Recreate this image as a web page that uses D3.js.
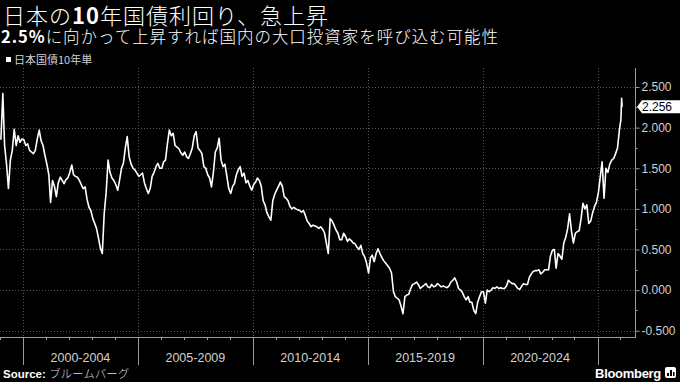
<!DOCTYPE html>
<html>
<head>
<meta charset="utf-8">
<script src="https://cdn.jsdelivr.net/npm/d3@7"></script>
<style>
  body { margin: 0; background: #000; }
  svg { display: block; }
</style>
</head>
<body>
<div id="chart"></div>
<script>
// Japan 10y JGB yield, monthly readings, Jan 1999 .. Dec 2025
var firstMonth = "1999-01";
var monthlyYields = [
  1.85, 2.42, 1.78, 1.55, 1.25, 1.60, 1.72, 1.98, 1.78, 1.90, 1.82, 1.86, // 1999
  1.85, 1.78, 1.80, 1.72, 1.70, 1.68, 1.72, 1.86, 1.97, 1.84, 1.78, 1.66, // 2000
  1.55, 1.42, 1.08, 1.35, 1.28, 1.15, 1.32, 1.39, 1.35, 1.31, 1.36, 1.38, // 2001
  1.45, 1.54, 1.42, 1.40, 1.39, 1.35, 1.30, 1.25, 1.27, 1.12, 1.02, 0.98, // 2002
  0.88, 0.82, 0.76, 0.64, 0.52, 0.45, 0.94, 1.20, 1.60, 1.45, 1.38, 1.35, // 2003
  1.30, 1.23, 1.35, 1.50, 1.56, 1.75, 1.89, 1.64, 1.55, 1.50, 1.48, 1.44, // 2004
  1.40, 1.42, 1.44, 1.32, 1.25, 1.19, 1.25, 1.40, 1.45, 1.52, 1.56, 1.50, // 2005
  1.50, 1.58, 1.60, 1.80, 1.97, 1.90, 1.93, 1.78, 1.76, 1.74, 1.69, 1.66, // 2006
  1.70, 1.64, 1.62, 1.68, 1.75, 1.90, 1.95, 1.75, 1.72, 1.68, 1.52, 1.50, // 2007
  1.42, 1.38, 1.27, 1.45, 1.70, 1.75, 1.87, 1.60, 1.52, 1.55, 1.40, 1.25, // 2008
  1.19, 1.28, 1.31, 1.42, 1.48, 1.52, 1.40, 1.44, 1.32, 1.35, 1.28, 1.23, // 2009
  1.30, 1.33, 1.38, 1.35, 1.28, 1.10, 1.05, 0.95, 0.90, 0.86, 1.10, 1.18, // 2010
  1.23, 1.28, 1.33, 1.28, 1.15, 1.13, 1.10, 1.03, 1.00, 1.02, 1.00, 0.99, // 2011
  0.98, 0.96, 0.98, 0.92, 0.85, 0.82, 0.78, 0.80, 0.79, 0.78, 0.76, 0.78, // 2012
  0.75, 0.70, 0.58, 0.45, 0.88, 0.85, 0.80, 0.74, 0.70, 0.62, 0.62, 0.70, // 2013
  0.66, 0.60, 0.63, 0.61, 0.58, 0.57, 0.53, 0.50, 0.55, 0.45, 0.41, 0.33, // 2014
  0.21, 0.40, 0.43, 0.35, 0.45, 0.51, 0.45, 0.40, 0.36, 0.33, 0.30, 0.27, // 2015
  0.21, -0.02, -0.08, -0.10, -0.12, -0.20, -0.29, -0.08, -0.06, -0.05, 0.02, 0.07, // 2016
  0.08, 0.10, 0.07, 0.02, 0.04, 0.06, 0.08, 0.04, 0.03, 0.07, 0.04, 0.05, // 2017
  0.08, 0.06, 0.04, 0.05, 0.04, 0.03, 0.05, 0.10, 0.12, 0.15, 0.10, 0.02, // 2018
  0.00, -0.03, -0.08, -0.12, -0.08, -0.15, -0.15, -0.25, -0.29, -0.15, -0.08, -0.02, // 2019
  -0.02, -0.16, 0.00, -0.02, 0.00, 0.03, 0.02, 0.04, 0.02, 0.03, 0.02, 0.02, // 2020
  0.05, 0.12, 0.10, 0.08, 0.08, 0.05, 0.02, 0.01, 0.05, 0.08, 0.07, 0.07, // 2021
  0.16, 0.20, 0.23, 0.24, 0.24, 0.25, 0.20, 0.22, 0.25, 0.25, 0.25, 0.42, // 2022
  0.49, 0.50, 0.27, 0.45, 0.42, 0.38, 0.58, 0.65, 0.76, 0.94, 0.72, 0.58, // 2023
  0.70, 0.72, 0.73, 0.88, 1.07, 1.00, 1.05, 0.82, 0.85, 0.95, 1.03, 1.08, // 2024
  1.20, 1.40, 1.58, 1.13, 1.50, 1.45, 1.55, 1.60, 1.62, 1.68, 1.75, 1.97  // 2025
];
// the last few daily points in Jan 2026
var tailDates = ["2026-01-08", "2026-01-20", "2026-01-27"];
var tailYields = [2.10, 2.36, 2.256];
var lastValue = 2.256;

var periodStarts = [2000, 2005, 2010, 2015, 2020, 2025];
var periodLabels = ["2000-2004", "2005-2009", "2010-2014", "2015-2019", "2020-2024"];
var yTicks = [-0.5, 0, 0.5, 1, 1.5, 2, 2.5];
var yMinorTicks = [-0.25, 0.25, 0.75, 1.25, 1.75, 2.25];

var svgWidth = 680;
var svgHeight = 382;
var plot = {left: 0, right: 635, top: 68, bottom: 337};

var svg = d3.select('#chart').append('svg')
  .attr('width', svgWidth)
  .attr('height', svgHeight)
  .style('background', '#000');

var font = "'Liberation Sans', Arial, sans-serif";
var jpFont = "'Noto Sans CJK JP', 'Noto Sans', sans-serif";

// build the series
var parseMonth = d3.timeParse("%Y-%m");
var parseDay = d3.timeParse("%Y-%m-%d");
var start = parseMonth(firstMonth);
var series = monthlyYields.map(function(v, i) {
  var d = d3.timeMonth.offset(start, i);
  d.setDate(15);
  return {date: d, value: v};
});
tailDates.forEach(function(s, i) {
  series.push({date: parseDay(s), value: tailYields[i]});
});

// scales
var x = d3.scaleTime()
  .domain([new Date(1999, 0, 1), new Date(2026, 7, 20)])
  .range([plot.left, plot.right]);
var y = d3.scaleLinear()
  .domain([-0.577, 2.734])
  .range([plot.bottom, plot.top]);

// grid
var grid = svg.append('g');
grid.selectAll('line.h').data(yTicks).enter().append('line')
  .attr('x1', plot.left).attr('x2', plot.right)
  .attr('y1', function(d) { return Math.round(y(d)) + 0.5; })
  .attr('y2', function(d) { return Math.round(y(d)) + 0.5; })
  .attr('stroke', '#555').attr('stroke-dasharray', '1,2');
grid.selectAll('line.v').data(periodStarts).enter().append('line')
  .attr('x1', function(d) { return Math.round(x(new Date(d, 0, 1))) + 0.5; })
  .attr('x2', function(d) { return Math.round(x(new Date(d, 0, 1))) + 0.5; })
  .attr('y1', plot.top).attr('y2', plot.bottom)
  .attr('stroke', '#555').attr('stroke-dasharray', '1,2');

// x axis
var xg = svg.append('g');
xg.append('line')
  .attr('x1', plot.left).attr('x2', plot.right)
  .attr('y1', plot.bottom + 0.5).attr('y2', plot.bottom + 0.5)
  .attr('stroke', '#9a9a9a');
var years = d3.range(1999, 2027);
xg.selectAll('line.minor').data(years).enter().append('line')
  .attr('x1', function(d) { return Math.round(x(new Date(d, 0, 1))) + 0.5; })
  .attr('x2', function(d) { return Math.round(x(new Date(d, 0, 1))) + 0.5; })
  .attr('y1', plot.bottom).attr('y2', plot.bottom + 3)
  .attr('stroke', '#9a9a9a');
xg.selectAll('line.sep').data(periodStarts).enter().append('line')
  .attr('x1', function(d) { return Math.round(x(new Date(d, 0, 1))) + 0.5; })
  .attr('x2', function(d) { return Math.round(x(new Date(d, 0, 1))) + 0.5; })
  .attr('y1', plot.bottom).attr('y2', 365)
  .attr('stroke', '#9a9a9a');
xg.selectAll('text').data(periodLabels).enter().append('text')
  .attr('x', function(d, i) {
    return (x(new Date(periodStarts[i], 0, 1)) + x(new Date(periodStarts[i + 1], 0, 1))) / 2;
  })
  .attr('y', 362)
  .attr('text-anchor', 'middle')
  .attr('fill', '#d0d0d0')
  .style('font-family', font).style('font-size', '12.5px')
  .text(function(d) { return d; });

// y axis on the right
var yAxis = d3.axisRight(y)
  .tickValues(yTicks)
  .tickSize(4)
  .tickPadding(2)
  .tickFormat(function(d) { return d.toFixed(3); });
var yg = svg.append('g')
  .attr('transform', 'translate(' + (plot.right + 0.5) + ',0)')
  .call(yAxis);
yg.select('.domain').remove();
yg.selectAll('line').attr('stroke', '#9a9a9a');
yg.selectAll('text')
  .attr('fill', '#d0d0d0')
  .style('font-family', font).style('font-size', '12px');
yg.selectAll('line.mn').data(yMinorTicks).enter().append('line')
  .attr('x1', 0).attr('x2', 2)
  .attr('y1', function(d) { return Math.round(y(d)) + 0.5; })
  .attr('y2', function(d) { return Math.round(y(d)) + 0.5; })
  .attr('stroke', '#9a9a9a');
svg.append('line')
  .attr('x1', plot.right + 0.5).attr('x2', plot.right + 0.5)
  .attr('y1', plot.top).attr('y2', plot.bottom + 1)
  .attr('stroke', '#9a9a9a');

// the line
var line = d3.line()
  .x(function(d) { return x(d.date); })
  .y(function(d) { return y(d.value); });
svg.append('path')
  .datum(series)
  .attr('d', line)
  .attr('fill', 'none')
  .attr('stroke', '#fff')
  .attr('stroke-width', 1.6)
  .attr('stroke-linejoin', 'round');

// last value tag
var ly = y(lastValue);
svg.append('path')
  .attr('d', 'M' + (plot.right + 2) + ',' + ly +
    'L' + (plot.right + 7) + ',' + (ly - 6.5) +
    'L680,' + (ly - 6.5) + 'L680,' + (ly + 6.5) +
    'L' + (plot.right + 7) + ',' + (ly + 6.5) + 'Z')
  .attr('fill', '#fff');
svg.append('text')
  .attr('x', plot.right + 7).attr('y', ly + 4.5)
  .attr('fill', '#000')
  .style('font-family', font).style('font-size', '12px')
  .text(lastValue.toFixed(3));

// titles (widths stretched by spacing to match the original layout)
var title = svg.append('text')
  .attr('x', 3).attr('y', 24)
  .attr('fill', '#fff')
  .attr('textLength', 325).attr('lengthAdjust', 'spacing')
  .style('font-family', jpFont).style('font-size', '22px').style('font-weight', 300);
title.append('tspan').text('日本の');
title.append('tspan').style('font-weight', 700).text('10');
title.append('tspan').text('年国債利回り、急上昇');

var sub = svg.append('text')
  .attr('x', 1).attr('y', 43)
  .attr('fill', '#fff')
  .attr('textLength', 497).attr('lengthAdjust', 'spacing')
  .style('font-family', jpFont).style('font-size', '16.5px').style('font-weight', 300);
sub.append('tspan').style('font-weight', 700).text('2.5%');
sub.append('tspan').text('に向かって上昇すれば国内の大口投資家を呼び込む可能性');

// legend
svg.append('rect')
  .attr('x', 6).attr('y', 57).attr('width', 5).attr('height', 5)
  .attr('fill', '#fff');
svg.append('text')
  .attr('x', 14).attr('y', 63.5)
  .attr('fill', '#d0d0d0')
  .style('font-family', jpFont).style('font-size', '11px')
  .text('日本国債10年単');

// footer
var src = svg.append('text')
  .attr('x', 3).attr('y', 378)
  .attr('fill', '#fff')
  .style('font-family', font).style('font-size', '11.5px');
src.append('tspan').style('font-weight', 700).text('Source: ');
src.append('tspan').style('font-family', jpFont).style('font-weight', 300)
  .attr('fill', '#ddd').text('ブルームバーグ');

svg.append('text')
  .attr('x', 661).attr('y', 378)
  .attr('text-anchor', 'end')
  .attr('fill', '#fff')
  .style('font-family', font).style('font-size', '13px').style('font-weight', 700)
  .style('letter-spacing', '-0.3px')
  .text('Bloomberg');
var icon = svg.append('g').attr('transform', 'translate(665,367)');
icon.append('rect').attr('width', 11).attr('height', 11).attr('rx', 2).attr('fill', '#fff');
[[2, 6, 2, 3], [5, 3, 2, 6], [8, 5, 1.5, 4]].forEach(function(b) {
  icon.append('rect').attr('x', b[0]).attr('y', b[1]).attr('width', b[2]).attr('height', b[3]).attr('fill', '#000');
});
</script>
</body>
</html>
